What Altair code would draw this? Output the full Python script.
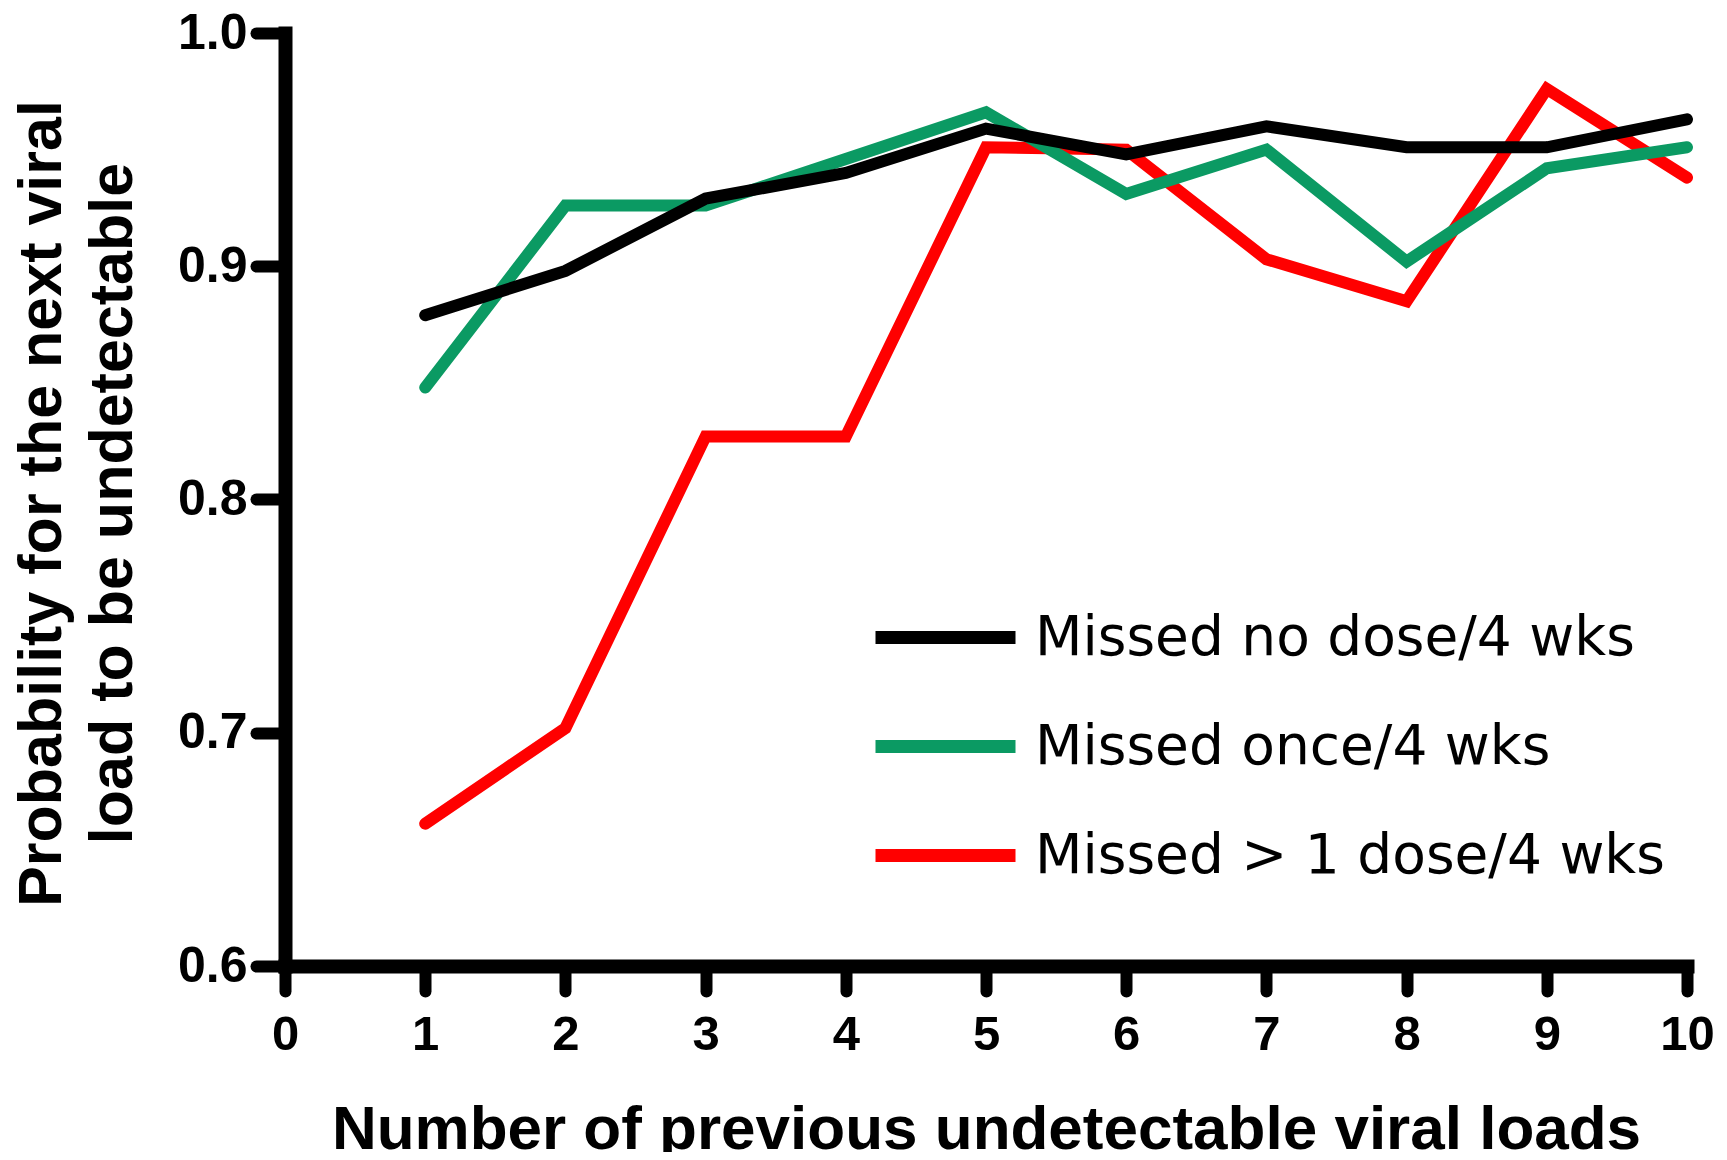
import altair as alt
import pandas as pd

# Data
x_vals = [1, 2, 3, 4, 5, 6, 7, 8, 9, 10]
series_names = ["Missed no dose/4 wks", "Missed once/4 wks", "Missed > 1 dose/4 wks"]
series_colors = ["#000000", "#0b9a63", "#ff0000"]
no_dose = [0.879, 0.898, 0.929, 0.940, 0.959, 0.948, 0.960, 0.951, 0.951, 0.963]
missed_once = [0.848, 0.926, 0.926, 0.946, 0.966, 0.931, 0.950, 0.902, 0.942, 0.951]
missed_more = [0.661, 0.702, 0.827, 0.827, 0.951, 0.950, 0.903, 0.885, 0.976, 0.938]

x_ticks = [0, 1, 2, 3, 4, 5, 6, 7, 8, 9, 10]
y_ticks = [0.6, 0.7, 0.8, 0.9, 1.0]

rows = []
for name, vals in zip(series_names, [no_dose, missed_once, missed_more]):
    for x, v in zip(x_vals, vals):
        rows.append({"n": x, "p": v, "group": name})
df = pd.DataFrame(rows)

base = alt.Chart(df).mark_line(strokeWidth=12, strokeCap="round").encode(
    x=alt.X(
        "n:Q",
        scale=alt.Scale(domain=[0, 10], nice=False, zero=False),
        axis=alt.Axis(
            values=x_ticks,
            format="d",
            title="Number of previous undetectable viral loads",
            labelFont="Liberation Sans",
            labelFontWeight="bold",
            labelFontSize=49,
            labelPadding=19,
            labelFlush=False,
            tickSize=25,
            titleFont="Liberation Sans",
            titleFontWeight="bold",
            titleFontSize=62,
            titleBaseline="alphabetic",
            titleY=182,
        ),
    ),
    y=alt.Y(
        "p:Q",
        scale=alt.Scale(domain=[0.6, 1.0], nice=False, zero=False),
        axis=alt.Axis(
            values=y_ticks,
            format=".1f",
            title=["Probability for the next viral", "load to be undetectable"],
            labelFont="Liberation Sans",
            labelFontWeight="bold",
            labelFontSize=50,
            labelPadding=9,
            labelFlush=False,
            tickSize=29,
            titleFont="Liberation Sans",
            titleFontWeight="bold",
            titleFontSize=61,
            titleLineHeight=71,
            titleAngle=270,
            titleBaseline="alphabetic",
            titleAlign="center",
            titleX=-225,
            titleY=470,
        ),
    ),
    color=alt.Color(
        "group:N",
        scale=alt.Scale(domain=series_names, range=series_colors),
        legend=alt.Legend(
            title=None,
            orient="none",
            legendX=584,
            legendY=528,
            padding=0,
            symbolType="stroke",
            symbolSize=19600,
            symbolStrokeWidth=13,
            labelFont="DejaVu Sans",
            labelFontSize=55,
            labelColor="#000000",
            labelOffset=13,
            labelLimit=1200,
            rowPadding=4,
        ),
    ),
)

layers = [base.transform_filter(alt.datum.group == name) for name in reversed(series_names)]

chart = (
    alt.layer(*layers)
    .properties(
        width=1402,
        height=933,
        autosize=alt.AutoSizeParams(type="none"),
        padding={"left": 277, "top": 25, "right": 30, "bottom": 186},
    )
    .configure_view(stroke=None)
    .configure_axis(
        grid=False,
        domainColor="#000000",
        domainWidth=14,
        domainCap="square",
        tickColor="#000000",
        tickWidth=12,
        tickCap="round",
        labelColor="#000000",
        titleColor="#000000",
    )
)

chart.save("out.html", embed_options={"renderer": "svg", "actions": False})
